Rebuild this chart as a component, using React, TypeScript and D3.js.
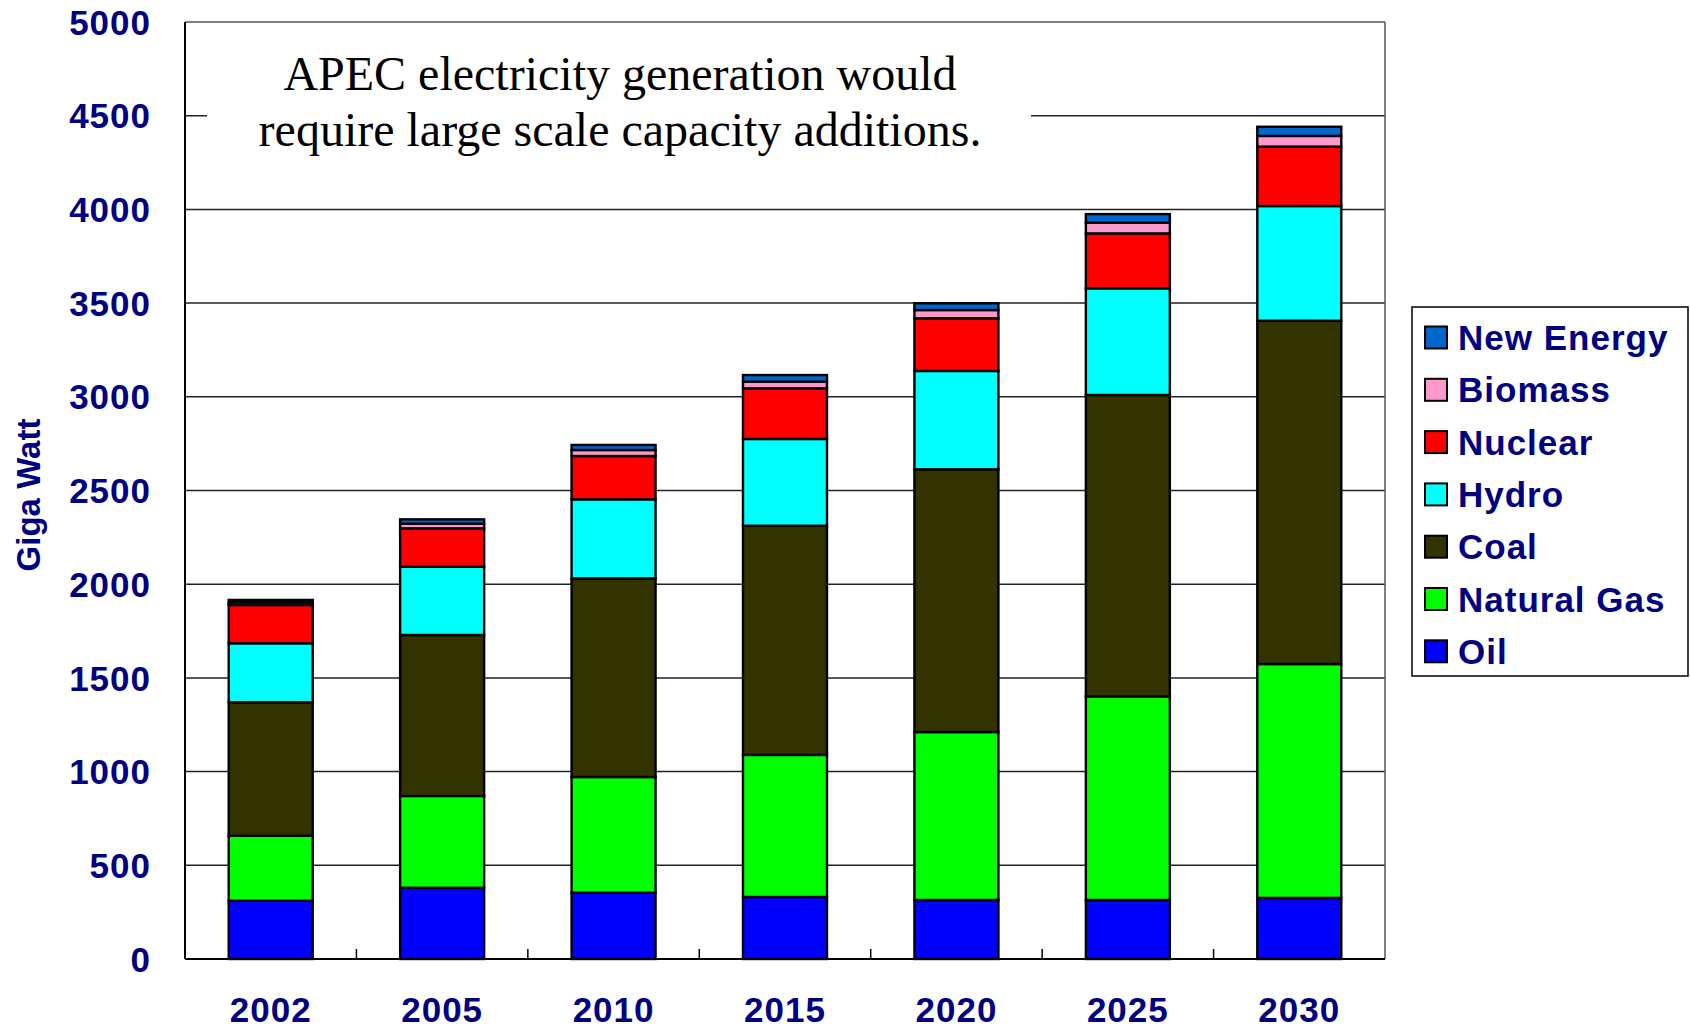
import React from "react";
import * as d3 from "d3";

const years = ["2002", "2005", "2010", "2015", "2020", "2025", "2030"];
const seriesNames = ["Oil", "Natural Gas", "Coal", "Hydro", "Nuclear", "Biomass", "New Energy"];
const oil = [311, 380, 354, 331, 315, 315, 326];
const naturalGas = [347, 490, 617, 758, 896, 1086, 1248];
const coal = [712, 859, 1060, 1223, 1402, 1609, 1832];
const hydro = [315, 364, 422, 463, 525, 569, 612];
const nuclear = [204, 205, 231, 270, 281, 293, 317];
const biomass = [14, 25, 32, 36, 44, 57, 57];
const newEnergy = [13, 23, 27, 35, 36, 46, 49];
const seriesColors = ["#0000FF", "#00FF00", "#333300", "#00FFFF", "#FF0000", "#FF99CC", "#0066CC"];
const yTicks = [0, 500, 1000, 1500, 2000, 2500, 3000, 3500, 4000, 4500, 5000];
const titleLines = ["APEC electricity generation would", "require large scale capacity additions."];
const yTitle = "Giga Watt";

const W = 1690;
const H = 1029;
const L = 185, R = 1385, T = 22, B = 959;
const NAVY = "#000080";

export default function App() {
  const values = [oil, naturalGas, coal, hydro, nuclear, biomass, newEnergy];
  const rows = years.map((yr, i) => {
    const o: any = { year: yr };
    seriesNames.forEach((s, k) => (o[s] = values[k][i]));
    return o;
  });
  const stacked = d3.stack().keys(seriesNames)(rows);
  const x = d3.scaleBand().domain(years).range([L, R]).paddingInner(0.51).paddingOuter(0.255);
  const y = d3.scaleLinear().domain([0, 5000]).range([B, T]);
  const step = x.step();
  const legendOrder = [...seriesNames].reverse();

  return (
    <svg width={W} height={H} style={{ position: "absolute", left: 0, top: 0, background: "#fff" }}>
      <rect x={0} y={0} width={W} height={H} fill="#fff" />
      {/* gridlines */}
      {yTicks.filter((t) => t > 0 && t < 5000).map((t) => (
        <line key={t} x1={L} x2={R} y1={y(t)} y2={y(t)} stroke="#222" strokeWidth={1.5} />
      ))}
      {/* plot border */}
      <line x1={L} x2={R} y1={T} y2={T} stroke="#555" strokeWidth={1.5} />
      <line x1={R} x2={R} y1={T} y2={B} stroke="#555" strokeWidth={1.5} />
      {/* title box */}
      <rect x={207} y={40} width={824} height={120} fill="#fff" />
      {titleLines.map((t, i) => (
        <text key={i} x={620} y={90 + i * 56} textAnchor="middle" fontFamily="'Liberation Serif', 'Times New Roman', serif" fontSize={48} fill="#000">
          {t}
        </text>
      ))}
      {/* bars */}
      {stacked.map((s, k) => (
        <g key={s.key}>
          {s.map((d, i) => (
            <rect
              key={i}
              x={x(years[i])!}
              width={x.bandwidth()}
              y={y(d[1])}
              height={y(d[0]) - y(d[1])}
              fill={seriesColors[k]}
              stroke="#000"
              strokeWidth={2.4}
            />
          ))}
        </g>
      ))}
      {/* axes */}
      <line x1={L} x2={L} y1={T} y2={B} stroke="#000" strokeWidth={2} />
      <line x1={L} x2={R} y1={B} y2={B} stroke="#000" strokeWidth={2} />
      {years.slice(1).map((yr) => (
        <line key={yr} x1={x(yr)! - (step - x.bandwidth()) / 2} x2={x(yr)! - (step - x.bandwidth()) / 2} y1={B} y2={B - 10} stroke="#000" strokeWidth={1.5} />
      ))}
      {yTicks.map((t) => (
        <text key={t} x={151} y={y(t)} dy="0.36em" textAnchor="end" fontFamily="'Liberation Sans', Arial, sans-serif" fontWeight="bold" fontSize={35} letterSpacing={1} fill={NAVY}>
          {t}
        </text>
      ))}
      {years.map((yr) => (
        <text key={yr} x={x(yr)! + x.bandwidth() / 2} y={1022} textAnchor="middle" fontFamily="'Liberation Sans', Arial, sans-serif" fontWeight="bold" fontSize={35} letterSpacing={1} fill={NAVY}>
          {yr}
        </text>
      ))}
      <text transform="translate(40,495) rotate(-90)" textAnchor="middle" fontFamily="'Liberation Sans', Arial, sans-serif" fontWeight="bold" fontSize={33} fill={NAVY}>
        {yTitle}
      </text>
      {/* legend */}
      <rect x={1412} y={307} width={276} height={369} fill="#fff" stroke="#000" strokeWidth={1.5} />
      {legendOrder.map((s, i) => {
        const k = seriesNames.indexOf(s);
        const cy = 337.5 + i * 52.3;
        return (
          <g key={s}>
            <rect x={1425} y={cy - 11} width={22} height={22} fill={seriesColors[k]} stroke="#000" strokeWidth={2} />
            <text x={1458} y={cy} dy="0.36em" fontFamily="'Liberation Sans', Arial, sans-serif" fontWeight="bold" fontSize={35} letterSpacing={1} fill={NAVY}>
              {s}
            </text>
          </g>
        );
      })}
    </svg>
  );
}
